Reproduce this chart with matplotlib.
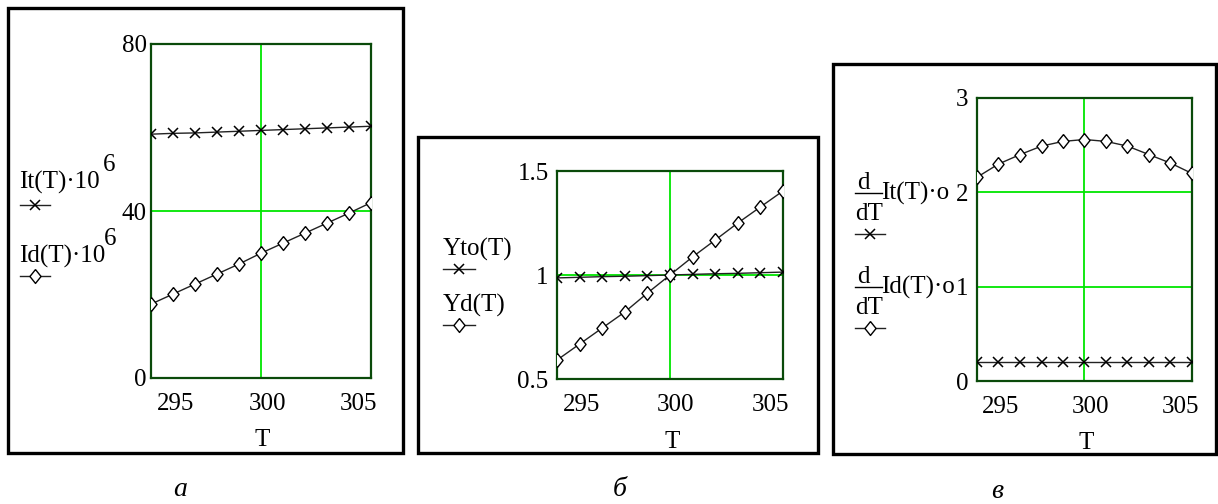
import matplotlib
matplotlib.use("Agg")
import matplotlib.pyplot as plt
from matplotlib.patches import Rectangle
from matplotlib.transforms import ScaledTranslation

# temperature points (same for all three panels)
T = [294.0, 295.2, 296.4, 297.6, 298.8, 300.0, 301.2, 302.4, 303.6, 304.8, 306.0]

# panel a: currents * 1e6
It = [58.4, 58.6, 58.7, 58.9, 59.1, 59.3, 59.5, 59.7, 59.9, 60.1, 60.3]
Id = [17.7, 20.1, 22.5, 24.9, 27.3, 29.9, 32.3, 34.7, 37.1, 39.5, 42.0]

# panel b: normalized
Yto = [0.986, 0.989, 0.992, 0.994, 0.997, 1.000, 1.003, 1.006, 1.008, 1.011, 1.014]
Yd = [0.591, 0.668, 0.745, 0.822, 0.913, 1.000, 1.087, 1.168, 1.250, 1.327, 1.404]

# panel c: derivatives
dIt = [0.2, 0.2, 0.2, 0.2, 0.2, 0.2, 0.2, 0.2, 0.2, 0.2, 0.2]
dId = [2.16, 2.30, 2.40, 2.49, 2.54, 2.56, 2.54, 2.49, 2.40, 2.31, 2.20]

x_ticks = [295, 300, 305]

plt.rcParams['font.family'] = ['Liberation Serif', 'DejaVu Serif']
plt.rcParams['font.size'] = 18

W, H = 1218, 504
fig = plt.figure(figsize=(W / 100, H / 100), dpi=100)

# background axes in pixel coords for frames, legends and captions
bg = fig.add_axes([0, 0, 1, 1])
bg.set_xlim(0, W)
bg.set_ylim(H, 0)
bg.axis('off')

GRID = '#00e600'
SPINE = '#0a4a0a'
LINE = '#222222'
DIAMOND = [(0, 1), (0.8, 0), (0, -1), (-0.8, 0), (0, 1)]


def add_plot(x0, y0, x1, y1, ylim, yticks, ygrid, ypad):
    ax = fig.add_axes([x0 / W, 1 - y1 / H, (x1 - x0) / W, (y1 - y0) / H])
    ax.set_xlim(294, 306)
    ax.set_ylim(*ylim)
    ax.set_xticks(x_ticks)
    ax.set_yticks(yticks)
    ax.tick_params(length=0, labelsize=18)
    ax.tick_params(axis='x', pad=10.5)
    ax.tick_params(axis='y', pad=ypad)
    for s in ax.spines.values():
        s.set_color(SPINE)
        s.set_linewidth(1.6)
    ax.axvline(300, color=GRID, lw=1.3, zorder=1)
    for g in ygrid:
        ax.axhline(g, color=GRID, lw=1.3, zorder=1)
    off = ScaledTranslation(6 / 100, 0, fig.dpi_scale_trans)
    for lbl in ax.get_xticklabels():
        lbl.set_transform(lbl.get_transform() + off)
    return ax


def draw_x(ax, y):
    ax.plot(T, y, color=LINE, lw=1.0, marker='x', ms=6.5, mew=1.1, mec='black', zorder=3)


def draw_d(ax, y):
    ax.plot(T, y, color=LINE, lw=1.0, marker=DIAMOND, ms=10, mew=1.0, mec='black',
            mfc='white', zorder=3)


def legend_sample(x0, x1, y, marker):
    bg.plot([x0, x1], [y, y], color=LINE, lw=1.0)
    if marker == 'x':
        bg.plot([(x0 + x1) / 2], [y], marker='x', ms=6.5, mew=1.1, color='black')
    else:
        bg.plot([(x0 + x1) / 2], [y], marker=DIAMOND, ms=10, mew=1.0, mec='black', mfc='white')


# frames
for (fx0, fy0, fx1, fy1) in [(8, 8, 403, 453), (418, 137, 818, 453), (833, 64, 1216, 454)]:
    bg.add_patch(Rectangle((fx0, fy0), fx1 - fx0, fy1 - fy0, fill=False, ec='black', lw=2.4))

# panel a
axa = add_plot(151, 44, 371, 378, (0, 80), [0, 40, 80], [40], 3)
draw_x(axa, It)
draw_d(axa, Id)
bg.text(19, 182, 'It(T)·10', ha='left', va='center', fontsize=18)
bg.text(103, 165, '6', ha='left', va='center', fontsize=18)
legend_sample(20, 50, 205, 'x')
bg.text(19, 256, 'Id(T)·10', ha='left', va='center', fontsize=18)
bg.text(104, 239, '6', ha='left', va='center', fontsize=18)
legend_sample(20, 50, 276, 'd')
bg.text(262, 440, 'T', ha='center', va='center', fontsize=18)
bg.text(180, 490, 'а', ha='center', va='center', fontsize=20, style='italic')

# panel b
axb = add_plot(557, 171, 783, 379, (0.5, 1.5), [0.5, 1, 1.5], [1], 6)
axb.set_yticklabels(['0.5', '1', '1.5'])
draw_x(axb, Yto)
draw_d(axb, Yd)
bg.text(443, 249, 'Yto(T)', ha='left', va='center', fontsize=18)
legend_sample(443, 475, 269, 'x')
bg.text(443, 305, 'Yd(T)', ha='left', va='center', fontsize=18)
legend_sample(443, 475, 325, 'd')
bg.text(672, 442, 'T', ha='center', va='center', fontsize=18)
bg.text(620, 490, 'б', ha='center', va='center', fontsize=20, style='italic')

# panel c
axc = add_plot(977, 98, 1192, 381, (0, 3), [0, 1, 2, 3], [1, 2], 6)
draw_x(axc, dIt)
draw_d(axc, dId)
for (yc, name, mk) in [(193, 'It(T)·o', 'x'), (287, 'Id(T)·o', 'd')]:
    bg.text(863, yc - 10, 'd', ha='center', va='center', fontsize=18)
    bg.plot([855, 882], [yc, yc], color='black', lw=1.0)
    bg.text(869, yc + 21, 'dT', ha='center', va='center', fontsize=18)
    bg.text(881, yc, name, ha='left', va='center', fontsize=18)
    legend_sample(855, 885, yc + 41, mk)
bg.text(1086, 443, 'T', ha='center', va='center', fontsize=18)
bg.text(997, 492, 'в', ha='center', va='center', fontsize=20, style='italic')

fig.savefig('out.png', dpi=100)
